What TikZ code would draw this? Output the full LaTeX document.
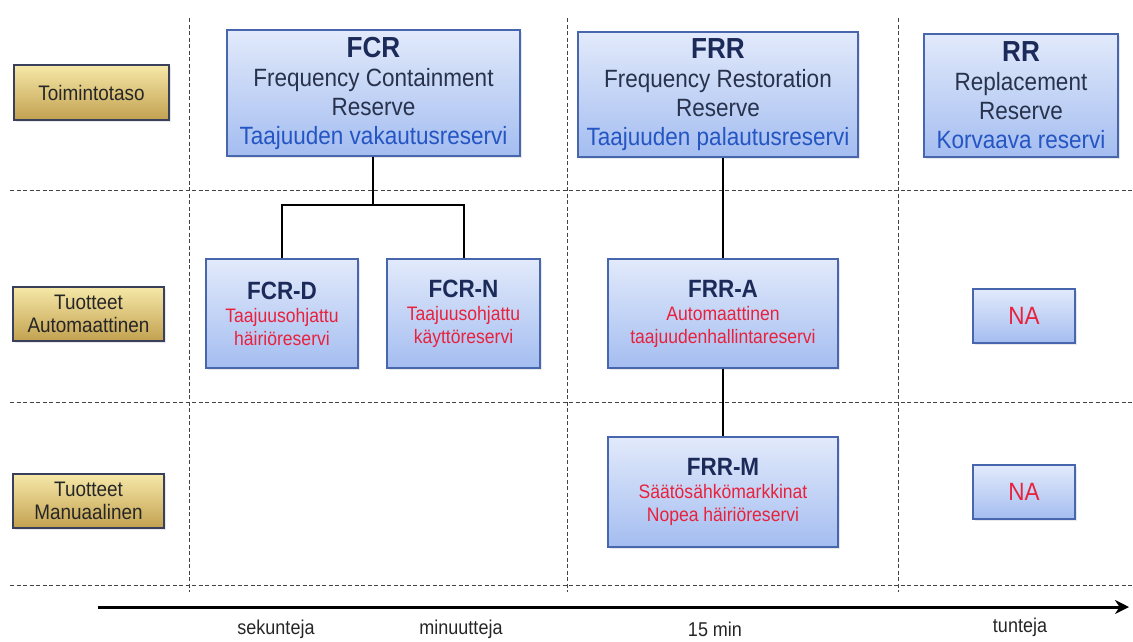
\documentclass[tikz,border=0pt]{standalone}
\usepackage{fontspec}
\setmainfont{Liberation Sans}[FakeStretch=0.9]
\usepackage{xcolor}
\definecolor{navy}{HTML}{1B2A58}
\definecolor{slate}{HTML}{28324C}
\definecolor{fiblue}{HTML}{2455C3}
\definecolor{redtxt}{HTML}{E8213C}
\definecolor{boxline}{HTML}{4866AE}
\definecolor{boxtop}{HTML}{E2EAFB}
\definecolor{boxbot}{HTML}{A4BDF0}
\definecolor{goldtop}{HTML}{F6E8A8}
\definecolor{goldbot}{HTML}{C2A150}
\definecolor{goldline}{HTML}{3A3F5C}
\definecolor{gridline}{HTML}{444444}
\usetikzlibrary{arrows.meta,shadows}
\tikzset{
  resbox/.style  = {rectangle, draw=boxline, line width=1.2pt,
                    top color=boxtop, bottom color=boxbot,
                    drop shadow={opacity=0.18, shadow xshift=2pt, shadow yshift=-2pt},
                    align=center, inner sep=0pt, text=slate,
                    font=\fontsize{25}{29}\selectfont},
  prodbox/.style = {resbox, text=redtxt, font=\fontsize{19.5}{23}\selectfont},
  lvlbox/.style  = {rectangle, draw=goldline, line width=1.2pt,
                    top color=goldtop, bottom color=goldbot,
                    drop shadow={opacity=0.18, shadow xshift=2pt, shadow yshift=-2pt},
                    align=center, inner sep=0pt, text=black!85,
                    font=\fontsize{21}{23}\selectfont},
  grid/.style    = {gridline, line width=1pt, dash pattern=on 4pt off 2.5pt},
  link/.style    = {black, line width=2pt},
  axis/.style    = {black, line width=3pt, -{Stealth[length=14pt,width=14pt]}},
  tick/.style    = {font=\fontsize{20}{22}\selectfont, text=black!85}
}
\newcommand{\restitle}[1]{{\fontsize{29}{31}\selectfont\bfseries\color{navy}#1}}
\newcommand{\prodtitle}[1]{{\fontsize{25}{27}\selectfont\bfseries\color{navy}#1}}

\begin{document}
\begin{tikzpicture}[x=1pt,y=-1pt]
  \useasboundingbox (0,0) rectangle (1133,641);
  % grid
  \foreach \x in {189,567,898}
    \draw[grid] (\x,18) -- (\x,592);
  \foreach \y in {190,402,585}
    \draw[grid] (10,\y) -- (1133,\y);
  % level labels
  \node[lvlbox, minimum width=155pt, minimum height=55pt] (lvl) at (91.5,92.5) {Toimintotaso};
  \node[lvlbox, minimum width=151pt, minimum height=54pt] (aut) at (88.5,314) {Tuotteet\\Automaattinen};
  \node[lvlbox, minimum width=151pt, minimum height=54pt] (man) at (88.5,501) {Tuotteet\\Manuaalinen};
  % reserves
  \node[resbox, minimum width=293pt, minimum height=126pt] (fcr) at (373.5,93)
    {\restitle{FCR}\\Frequency Containment\\Reserve\\{\color{fiblue}Taajuuden vakautusreservi}};
  \node[resbox, minimum width=280pt, minimum height=125pt] (frr) at (718,94.5)
    {\restitle{FRR}\\Frequency Restoration\\Reserve\\{\color{fiblue}Taajuuden palautusreservi}};
  \node[resbox, minimum width=194pt, minimum height=123pt] (rr) at (1021,95.5)
    {\restitle{RR}\\Replacement\\Reserve\\{\color{fiblue}Korvaava reservi}};
  % products
  \node[prodbox, minimum width=152pt, minimum height=109pt] (fcrd) at (282,313.5)
    {\prodtitle{FCR-D}\\Taajuusohjattu\\häiriöreservi};
  \node[prodbox, minimum width=153pt, minimum height=109pt] (fcrn) at (463.5,313.5)
    {\prodtitle{FCR-N}\\Taajuusohjattu\\käyttöreservi};
  \node[prodbox, minimum width=230pt, minimum height=109pt] (frra) at (723,313.5)
    {\prodtitle{FRR-A}\\Automaattinen\\taajuudenhallintareservi};
  \node[prodbox, minimum width=230pt, minimum height=110pt] (frrm) at (723,492)
    {\prodtitle{FRR-M}\\Säätösähkömarkkinat\\Nopea häiriöreservi};
  \node[prodbox, minimum width=102pt, minimum height=54pt, font=\fontsize{25}{27}\selectfont] (na1) at (1024,316) {NA};
  \node[prodbox, minimum width=102pt, minimum height=54pt, font=\fontsize{25}{27}\selectfont] (na2) at (1024,492) {NA};
  % connectors
  \coordinate (fork) at (373,205);
  \draw[link] (fcr.south -| fork) -- (fork);
  \draw[link] (fcrd.north) |- (fork) -| (fcrn.north);
  \foreach \a/\b in {frr/frra,frra/frrm}
    \draw[link] (\a.south -| frra) -- (\b.north -| frra);
  % time axis
  \coordinate (t0) at (98,607);
  \coordinate (t1) at (1129,607);
  \draw[axis] (t0) -- (t1);
  \node[tick] (sek) at (276,629) {sekunteja};
  \node[tick] (min) at (461,629) {minuutteja};
  \node[tick] (q15) at (715,629) {15 min};
  \node[tick] (tun) at (1020,627) {tunteja};
\end{tikzpicture}
\end{document}
